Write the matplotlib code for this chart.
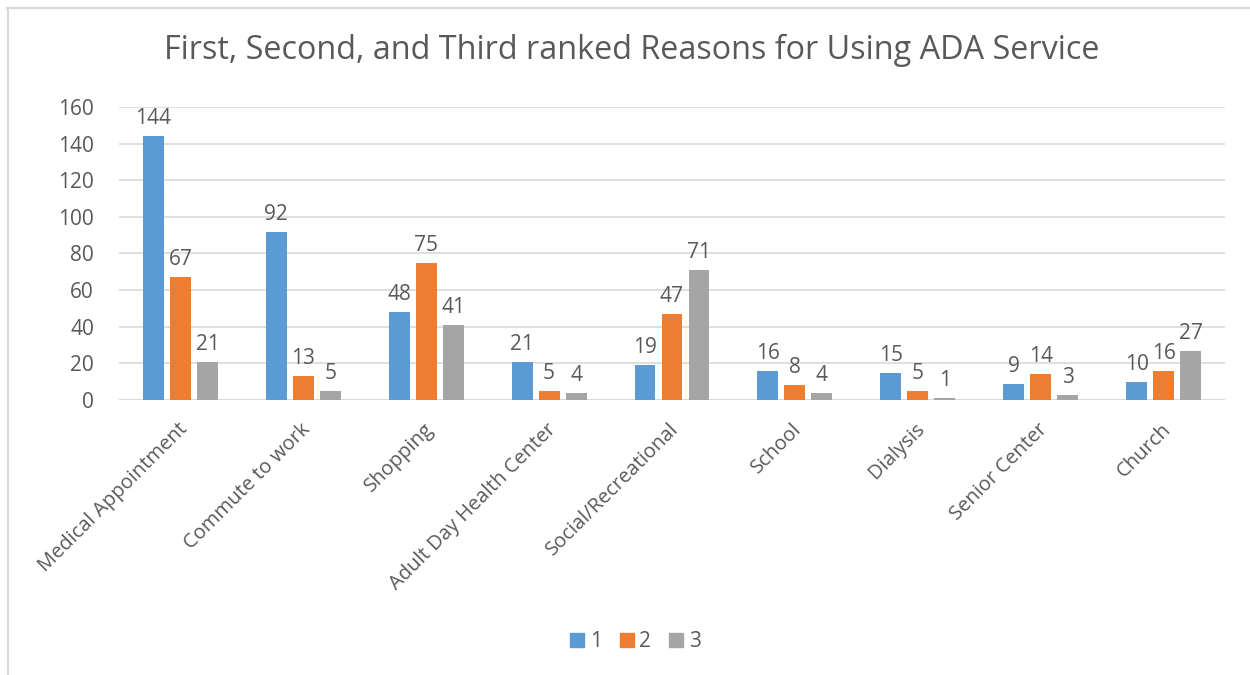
import matplotlib.pyplot as plt
import numpy as np
from matplotlib.lines import Line2D

plt.rcParams['font.family'] = ['Open Sans', 'DejaVu Sans']

categories = ["Medical Appointment", "Commute to work", "Shopping",
              "Adult Day Health Center", "Social/Recreational", "School",
              "Dialysis", "Senior Center", "Church"]
rank1 = [144, 92, 48, 21, 19, 16, 15, 9, 10]
rank2 = [67, 13, 75, 5, 47, 8, 5, 14, 16]
rank3 = [21, 5, 41, 4, 71, 4, 1, 3, 27]
series_names = ["1", "2", "3"]
colors = ["#5B9BD5", "#ED7D31", "#A5A5A5"]

text_color = "#595959"

fig = plt.figure(figsize=(12.5, 6.75), dpi=100)
ax = fig.add_axes([0.0952, 0.4074, 0.8848, 0.4341])

x = np.arange(len(categories))
bw = 0.17
step = 0.22
for i, (vals, c) in enumerate(zip([rank1, rank2, rank3], colors)):
    pos = x + (i - 1) * step
    bars = ax.bar(pos, vals, width=bw, color=c, zorder=3)
    for b, v in zip(bars, vals):
        ax.annotate(str(v), xy=(b.get_x() + b.get_width() / 2, v),
                    xytext=(0, 5), textcoords='offset points', ha='center',
                    va='bottom', fontsize=15, color=text_color)

ax.set_xlim(-0.5, len(categories) - 0.5)
ax.set_ylim(0, 160)
ax.set_yticks(range(0, 161, 20))
ax.yaxis.grid(True, color="#D9D9D9", linewidth=1.2, zorder=0)
for s in ax.spines.values():
    s.set_visible(False)
ax.axhline(0, color="#D9D9D9", linewidth=1.2, zorder=2)
ax.tick_params(axis='y', length=0, pad=18, labelsize=15, labelcolor=text_color)
ax.tick_params(axis='x', length=0)
ax.set_xticks(x)
ax.set_xticklabels([])
for xi, name in zip(x, categories):
    ax.annotate(name, xy=(xi, 0), xycoords=('data', 'axes fraction'),
                xytext=(3, -19), textcoords='offset points', rotation=45,
                rotation_mode='anchor', ha='right', va='center',
                fontsize=14.5, color=text_color)

fig.text(0.505, 0.925, "First, Second, and Third ranked Reasons for Using ADA Service",
         ha='center', va='center', fontsize=23.3, color=text_color)

handles = [Line2D([], [], marker='s', linestyle='none', markersize=10,
                  markerfacecolor=c, markeredgecolor=c) for c in colors]
fig.legend(handles, series_names, loc='center', bbox_to_anchor=(0.507, 0.049),
           ncol=3, frameon=False, fontsize=15, handletextpad=0.1,
           columnspacing=0.7, labelcolor=text_color, handlelength=1.0)

# chart area border (top and left edges visible)
fig.add_artist(Line2D([0.0056, 1.0], [0.988, 0.988], transform=fig.transFigure,
                      color="#D9D9D9", linewidth=1.5))
fig.add_artist(Line2D([0.0064, 0.0064], [0.0, 0.988], transform=fig.transFigure,
                      color="#D9D9D9", linewidth=1.5))

fig.savefig("out.png", dpi=100, facecolor='white')
